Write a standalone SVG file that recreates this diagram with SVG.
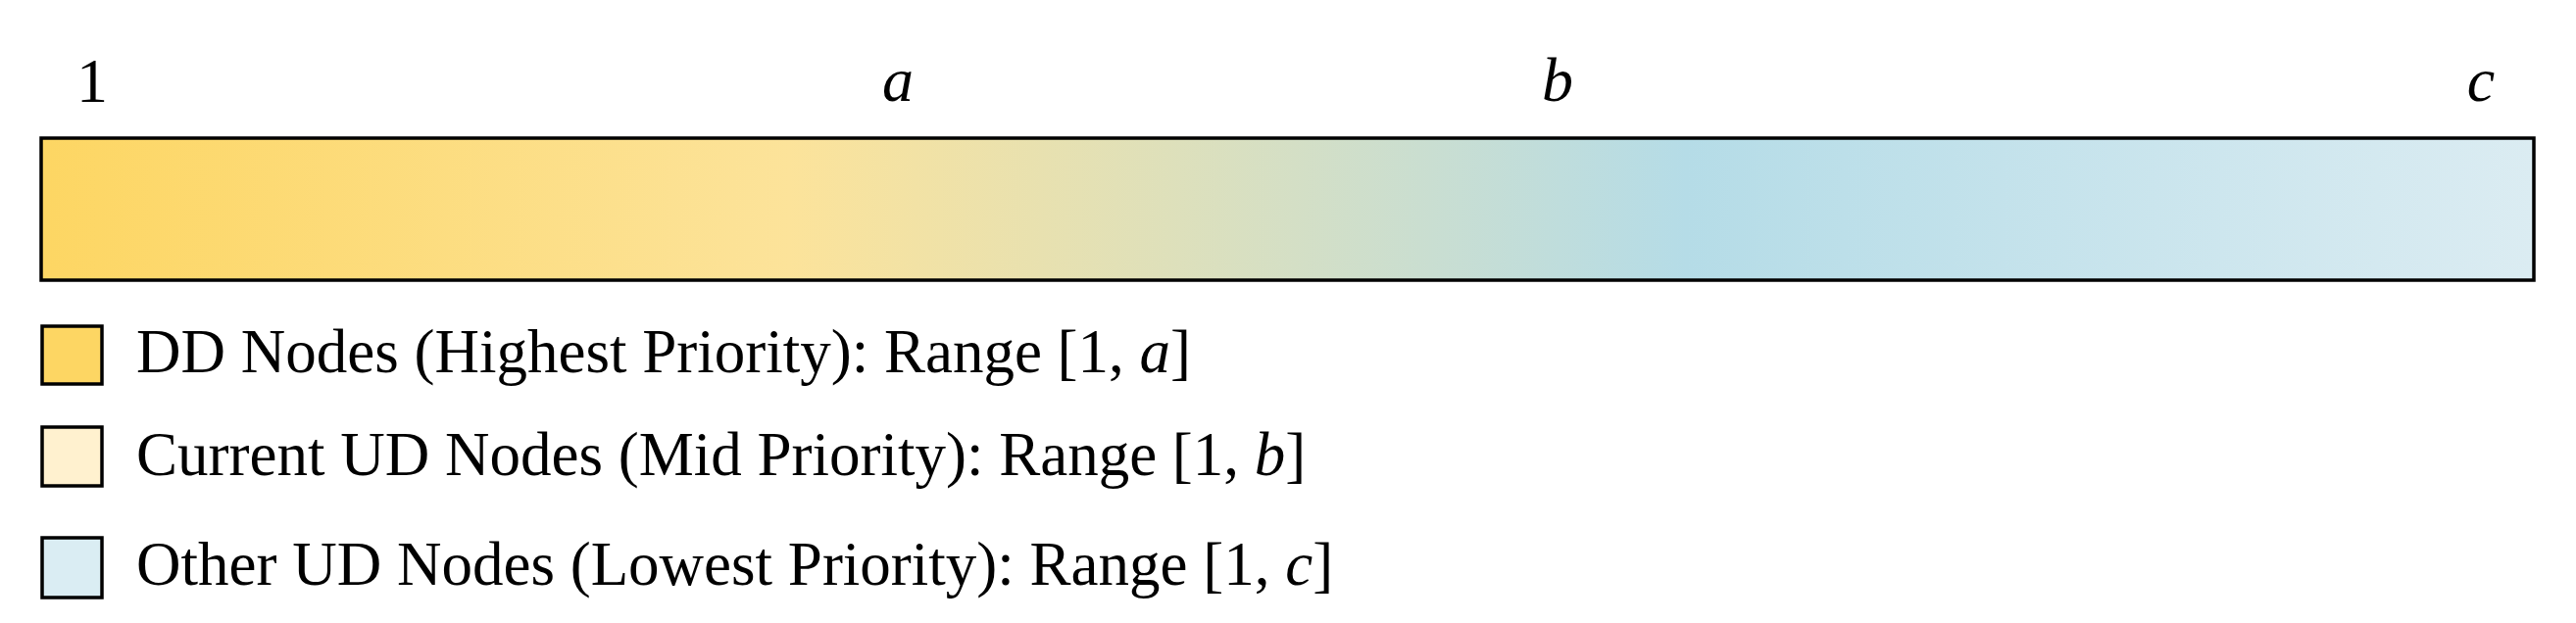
<svg xmlns="http://www.w3.org/2000/svg" width="2628" height="636" viewBox="0 0 2628 636">
  <style>
    .lbl { font-family: "Liberation Serif", "Times New Roman", serif; font-size: 64px; fill: #000; }
    .leg { font-family: "Liberation Serif", "Times New Roman", serif; font-size: 63px; fill: #000; }
    .box { stroke: #000; stroke-width: 3.5; }
  </style>
  <defs>
    <linearGradient id="grad" x1="0" y1="0" x2="1" y2="0">
      <stop offset="0" stop-color="#FDD663"/>
      <stop offset="0.30" stop-color="#FCE39A"/>
      <stop offset="0.66" stop-color="#B5DCE7"/>
      <stop offset="1" stop-color="#DBECF2"/>
    </linearGradient>
  </defs>
  <rect width="2628" height="636" fill="#fff"/>
  <g id="axis-labels">
    <text class="lbl" x="94" y="104" text-anchor="middle">1</text>
    <text class="lbl" x="916" y="103" text-anchor="middle" font-style="italic">a</text>
    <text class="lbl" x="1589" y="103" text-anchor="middle" font-style="italic">b</text>
    <text class="lbl" x="2531" y="103" text-anchor="middle" font-style="italic">c</text>
  </g>
  <g id="priority-bar">
    <rect class="box" x="42" y="141" width="2543" height="145" fill="url(#grad)"/>
  </g>
  <g id="legend-dd">
    <rect class="box" x="43" y="333" width="61" height="59" fill="#FDD663"/>
    <text class="leg" x="139" y="380">DD Nodes (Highest Priority): Range [1, <tspan font-style="italic">a</tspan>]</text>
  </g>
  <g id="legend-current-ud">
    <rect class="box" x="43" y="436" width="61" height="60" fill="#FFF1CF"/>
    <text class="leg" x="139" y="485">Current UD Nodes (Mid Priority): Range [1, <tspan font-style="italic">b</tspan>]</text>
  </g>
  <g id="legend-other-ud">
    <rect class="box" x="43" y="549" width="61" height="61" fill="#DAEDF3"/>
    <text class="leg" x="139" y="597">Other UD Nodes (Lowest Priority): Range [1, <tspan font-style="italic">c</tspan>]</text>
  </g>
</svg>
